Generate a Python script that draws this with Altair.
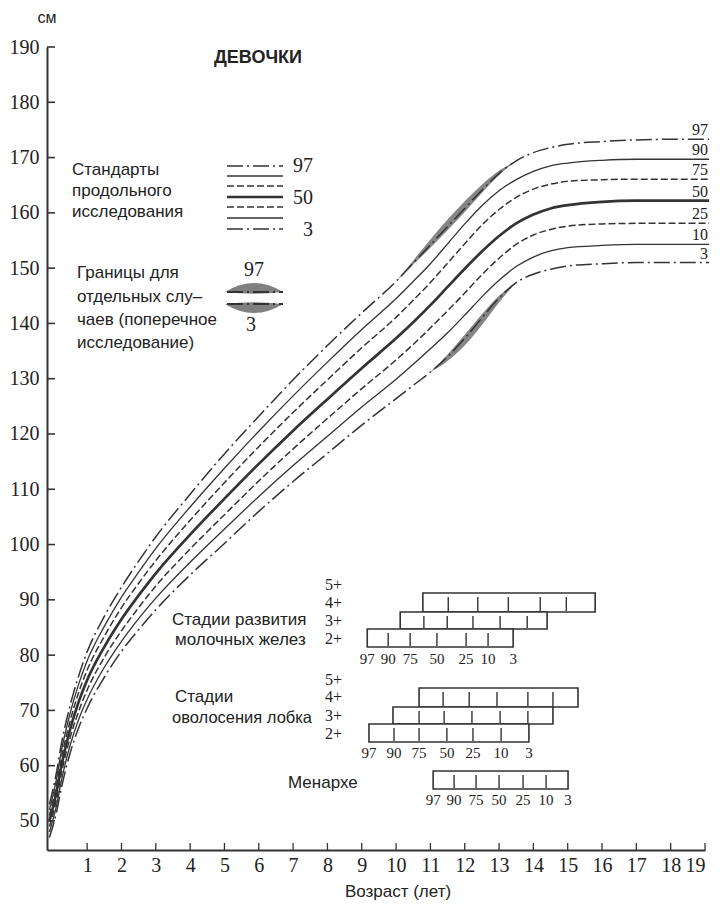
import altair as alt
import pandas as pd

# ---------------- data ----------------
AGES = [-0.1, 0.1, 0.25, 0.5, 0.75, 1, 1.5, 2, 2.5, 3, 4, 5, 6, 7, 8, 9, 10,
        10.5, 11, 11.5, 12, 12.5, 13, 13.5, 14, 14.5, 15, 16, 17, 18, 19.12]
P97 = [53.0, 58.6, 64.0, 70.8, 76.2, 80.6, 87.0, 92.3, 97.0, 101.4, 109.1, 116.4, 123.2, 129.8, 136.0, 141.9, 147.6,
       150.9, 154.2, 157.5, 160.8, 164.1, 167.1, 169.4, 170.9, 171.8, 172.4, 172.9, 173.2, 173.3, 173.3]
P90 = [52.0, 57.4, 62.7, 69.4, 74.7, 79.0, 85.2, 90.5, 95.0, 99.3, 106.8, 113.8, 120.5, 126.9, 133.0, 138.9, 144.5,
       147.6, 150.8, 154.4, 158.0, 161.3, 164.0, 166.0, 167.5, 168.5, 169.0, 169.5, 169.7, 169.7, 169.7]
P75 = [51.0, 56.3, 61.4, 68.0, 73.2, 77.3, 83.4, 88.6, 93.0, 97.1, 104.4, 111.2, 117.7, 123.9, 129.8, 135.6, 141.1,
       144.2, 147.4, 150.9, 154.4, 157.8, 160.6, 162.8, 164.3, 165.2, 165.7, 166.0, 166.1, 166.1, 166.1]
P50 = [50.0, 55.0, 60.0, 66.5, 71.5, 75.5, 81.5, 86.5, 90.8, 94.8, 101.8, 108.3, 114.6, 120.6, 126.3, 131.9, 137.3,
       140.2, 143.3, 146.6, 149.9, 153.0, 155.8, 158.1, 159.7, 160.8, 161.4, 162.0, 162.2, 162.2, 162.2]
P25 = [49.0, 53.7, 58.6, 65.0, 69.8, 73.7, 79.6, 84.4, 88.6, 92.5, 99.2, 105.4, 111.5, 117.3, 122.8, 128.2, 133.4,
       136.2, 139.2, 142.3, 145.5, 148.8, 151.8, 154.3, 156.0, 157.0, 157.6, 158.0, 158.1, 158.1, 158.1]
P10 = [48.0, 52.6, 57.3, 63.6, 68.3, 72.0, 77.8, 82.5, 86.6, 90.3, 96.8, 102.8, 108.7, 114.3, 119.6, 124.9, 129.9,
       132.6, 135.4, 138.3, 141.5, 144.8, 147.8, 150.3, 152.0, 153.1, 153.7, 154.1, 154.3, 154.3, 154.3]
P3 = [47.0, 51.4, 56.0, 62.2, 66.8, 70.4, 76.0, 80.7, 84.6, 88.2, 94.5, 100.2, 106.0, 111.4, 116.5, 121.6, 126.4,
      128.8, 131.2, 134.0, 137.3, 141.0, 144.6, 147.4, 148.9, 149.8, 150.4, 150.8, 151.0, 151.0, 151.0]
CENTILES = [97, 90, 75, 50, 25, 10, 3]
SERIES = {97: P97, 90: P90, 75: P75, 50: P50, 25: P25, 10: P10, 3: P3}

# cross-sectional limits (grey shading) along the 97th and 3rd curves (band width, cm)
BAND97_AGES = [10, 10.5, 11, 11.5, 12, 12.5, 13, 13.5]
BAND97_W = [0.0, 0.5, 1.0, 1.3, 1.3, 1.0, 0.5, 0.0]
BAND3_AGES = [11, 11.5, 12, 12.5, 13, 13.5]
BAND3_W = [0.0, 0.8, 1.3, 1.3, 0.8, 0.0]

# maturity stages: ages at centiles 97, 90, 75, 50, 25, 10, 3
PCT_LABELS = ["97", "90", "75", "50", "25", "10", "3"]
BREAST_4 = [10.78, 11.52, 12.38, 13.27, 14.20, 14.96, 15.80]
BREAST_3 = [10.12, 10.81, 11.49, 12.24, 13.03, 13.82, 14.40]
BREAST_2 = [9.16, 9.77, 10.41, 11.19, 12.04, 12.68, 13.41]
PUBIC_4 = [10.67, 11.37, 12.13, 12.94, 13.84, 14.57, 15.30]
PUBIC_3 = [9.91, 10.67, 11.40, 12.21, 13.03, 13.84, 14.57]
PUBIC_2 = [9.21, 9.94, 10.67, 11.48, 12.24, 13.06, 13.87]
MENARCHE = [11.08, 11.69, 12.33, 13.00, 13.70, 14.37, 15.01]

Y_TICKS = list(range(50, 191, 10))
X_TICKS = list(range(1, 20))

# ---------------- layout / style ----------------
W, H = 658, 803
X0, Y0 = 47, 47
INK = "#222222"
LINE = "#333333"
SERIF = "Liberation Serif"
SANS = "Liberation Sans"
XS = alt.Scale(domain=[-0.17, 19], nice=False, zero=False)
YS = alt.Scale(domain=[44.75, 190], nice=False, zero=False)
XAXIS = alt.Axis(values=X_TICKS, ticks=False, grid=False, labelFont=SERIF, labelFontSize=20,
                 labelColor=INK, labelPadding=5, domainColor=LINE, domainWidth=2, title=None)
YAXIS = alt.Axis(values=Y_TICKS, ticks=False, grid=False, labelFont=SERIF, labelFontSize=20,
                 labelColor=INK, labelPadding=8, domainColor=LINE, domainWidth=2, title=None)

STYLE = {
    97: dict(strokeDash=[16, 4, 2, 4], strokeWidth=1.5),
    90: dict(strokeWidth=1.3),
    75: dict(strokeDash=[7, 3], strokeWidth=1.5),
    50: dict(strokeWidth=2.7),
    25: dict(strokeDash=[7, 3], strokeWidth=1.5),
    10: dict(strokeWidth=1.3),
    3: dict(strokeDash=[16, 4, 2, 4], strokeWidth=1.5),
}

ONE = pd.DataFrame({"k": [0]})


def X(f="age"):
    return alt.X(f"{f}:Q", scale=XS, axis=XAXIS)


def Y(f="h"):
    return alt.Y(f"{f}:Q", scale=YS, axis=YAXIS)


def txt(s, x, y, size=17, font=SANS, align="left", weight="normal", baseline="middle"):
    return alt.Chart(ONE).mark_text(text=s, align=align, baseline=baseline, font=font,
                                    fontSize=size, fontWeight=weight, color=INK).encode(
        x=alt.value(x - X0), y=alt.value(y - Y0))


layers = []

# grey bands
lookup97 = dict(zip(AGES, P97))
lookup3 = dict(zip(AGES, P3))
b97 = pd.DataFrame({"age": BAND97_AGES,
                    "h": [lookup97[a] - 0.5 * w for a, w in zip(BAND97_AGES, BAND97_W)],
                    "h2": [lookup97[a] + w for a, w in zip(BAND97_AGES, BAND97_W)]})
b3 = pd.DataFrame({"age": BAND3_AGES,
                   "h": [lookup3[a] + 0.5 * w for a, w in zip(BAND3_AGES, BAND3_W)],
                   "h2": [lookup3[a] - w for a, w in zip(BAND3_AGES, BAND3_W)]})
for bd in (b97, b3):
    layers.append(alt.Chart(bd).mark_area(interpolate="monotone", color="#666666", opacity=0.8).encode(
        x=X(), y=Y(), y2="h2:Q"))

# centile curves
for c in CENTILES:
    df = pd.DataFrame({"age": AGES, "h": SERIES[c]})
    layers.append(alt.Chart(df).mark_line(interpolate="monotone", color=LINE, **STYLE[c]).encode(
        x=X(), y=Y()))

# inner ticks on axes
layers.append(alt.Chart(pd.DataFrame({"h": Y_TICKS})).mark_rule(color=LINE, strokeWidth=1.6).encode(
    y=Y(), x=alt.value(0), x2=alt.value(8)))
layers.append(alt.Chart(pd.DataFrame({"age": X_TICKS})).mark_rule(color=LINE, strokeWidth=1.3).encode(
    x=X(), y=alt.value(H), y2=alt.value(H - 7)))

# right-end centile labels
ends = pd.DataFrame({"lab": [str(c) for c in CENTILES], "h": [SERIES[c][-1] for c in CENTILES]})
layers.append(alt.Chart(ends).mark_text(align="right", baseline="bottom", dy=-1, font=SERIF,
                                        fontSize=16, color=INK).encode(
    x=alt.value(708 - X0), y=Y(), text="lab:N"))

# legend of the longitudinal standards
leg_y = [166, 176, 186, 197, 207, 218, 229]
for c, yy in zip(CENTILES, leg_y):
    layers.append(alt.Chart(ONE).mark_rule(color=LINE, **STYLE[c]).encode(
        x=alt.value(227 - X0), x2=alt.value(283 - X0), y=alt.value(yy - Y0)))
layers.append(txt("97", 313, 166, size=20, font=SERIF, align="right"))
layers.append(txt("50", 313, 198, size=20, font=SERIF, align="right"))
layers.append(txt("3", 313, 230, size=20, font=SERIF, align="right"))

# legend of the cross-sectional limits (lens shapes)
LENS_UP = "M -1 0 Q 0 -0.62 1 0 Q 0 0.12 -1 0 Z"
LENS_DN = "M -1 0 Q 0 0.62 1 0 Q 0 -0.12 -1 0 Z"
for shp, yy in ((LENS_UP, 292), (LENS_DN, 304)):
    layers.append(alt.Chart(ONE).mark_point(shape=shp, filled=True, size=3364, color="#6a6a6a",
                                            opacity=0.85, strokeWidth=0).encode(
        x=alt.value(254 - X0), y=alt.value(yy - Y0)))
    layers.append(alt.Chart(ONE).mark_rule(color=LINE, strokeDash=[16, 4, 2, 4], strokeWidth=2).encode(
        x=alt.value(227 - X0), x2=alt.value(283 - X0), y=alt.value(yy - Y0)))
layers.append(txt("97", 254, 270, size=20, font=SERIF, align="center"))
layers.append(txt("3", 251, 325, size=20, font=SERIF, align="center"))

# maturity-stage boxes
ROWS = [
    (BREAST_4, 593, 612), (BREAST_3, 612, 629), (BREAST_2, 629, 647),
    (PUBIC_4, 688, 707), (PUBIC_3, 707, 724), (PUBIC_2, 724, 742),
    (MENARCHE, 771, 789),
]
for vals, top, bot in ROWS:
    box = pd.DataFrame({"age": [vals[0]], "age2": [vals[-1]]})
    layers.append(alt.Chart(box).mark_rect(fill="white", stroke=LINE, strokeWidth=1.6).encode(
        x=X(), x2="age2:Q", y=alt.value(top - Y0), y2=alt.value(bot - Y0)))
    inner = pd.DataFrame({"age": vals[1:-1]})
    layers.append(alt.Chart(inner).mark_rule(color=LINE, strokeWidth=1.4).encode(
        x=X(), y=alt.value(top + 4 - Y0), y2=alt.value(bot - 1 - Y0)))

for vals, yy in ((BREAST_2, 659), (PUBIC_2, 753), (MENARCHE, 800)):
    lab = pd.DataFrame({"age": vals, "lab": PCT_LABELS})
    layers.append(alt.Chart(lab).mark_text(font=SERIF, fontSize=15, color=INK, baseline="middle").encode(
        x=X(), y=alt.value(yy - Y0), text="lab:N"))

for s, yy in (("5+", 585), ("4+", 603), ("3+", 621), ("2+", 639),
              ("5+", 680), ("4+", 697), ("3+", 716), ("2+", 734)):
    layers.append(txt(s, 342, yy, size=16, font=SERIF, align="right"))

# texts
layers.append(txt("см", 47, 18, size=16, align="center"))
layers.append(txt("ДЕВОЧКИ", 258, 58, size=18, align="center", weight="bold"))
for s, yy in (("Стандарты", 170), ("продольного", 191), ("исследования", 212)):
    layers.append(txt(s, 72, yy))
for s, yy in (("Границы для", 273), ("отдельных слу–", 297), ("чаев (поперечное", 320), ("исследование)", 343)):
    layers.append(txt(s, 77, yy))
layers.append(txt("Стадии развития", 172, 620))
layers.append(txt("молочных желез", 175, 640))
layers.append(txt("Стадии", 175, 697))
layers.append(txt("оволосения лобка", 172, 718, size=16.5))
layers.append(txt("Менархе", 288, 783))
layers.append(txt("Возраст (лет)", 398, 892, size=17, align="center"))

chart = alt.layer(*layers).properties(
    width=W, height=H,
    autosize=alt.AutoSizeParams(type="none"),
    padding={"left": 39, "top": 39, "right": 5, "bottom": 53},
).configure_view(stroke="transparent")

chart.save("out.html", embed_options={"renderer": "svg", "actions": False})
